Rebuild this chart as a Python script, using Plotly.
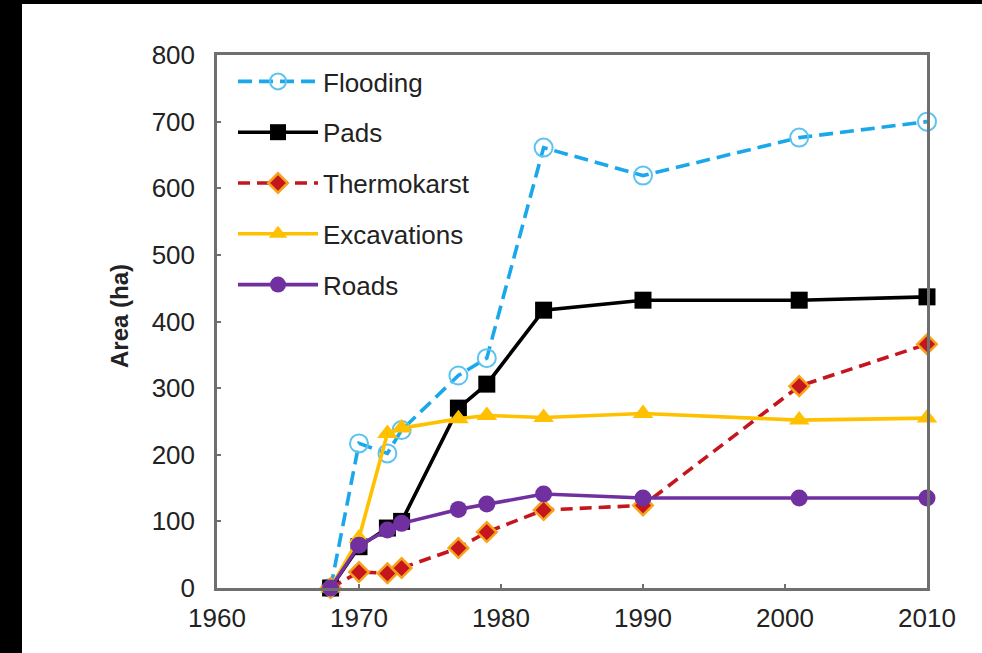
import plotly.graph_objects as go

# Survey years and mapped disturbance area (ha) per category
years = [1968, 1970, 1972, 1973, 1977, 1979, 1983, 1990, 2001, 2010]
flooding = [0, 217, 202, 237, 319, 345, 661, 619, 676, 700]
pads = [0, 62, 90, 100, 270, 306, 417, 432, 432, 437]
thermokarst = [0, 24, 22, 30, 60, 84, 117, 124, 303, 366]
excavations = [0, 75, 232, 240, 254, 259, 256, 262, 252, 255]
roads = [0, 64, 87, 97, 118, 126, 141, 135, 135, 135]

x_ticks = [1960, 1970, 1980, 1990, 2000, 2010]
y_ticks = [0, 100, 200, 300, 400, 500, 600, 700, 800]

FONT = "Liberation Sans, Arial, sans-serif"

series = [
    dict(name="Flooding", y=flooding, color="#1ba8eb", dash="14px,7px",
         marker=dict(symbol="circle-open", size=18, color="#5cc3f0", line=dict(width=2))),
    dict(name="Pads", y=pads, color="#000000", dash="solid",
         marker=dict(symbol="square", size=17, color="#000000")),
    dict(name="Thermokarst", y=thermokarst, color="#c4161c", dash="12px,7px",
         marker=dict(symbol="diamond", size=15, color="#c4161c", line=dict(color="#f7a21b", width=2.5))),
    dict(name="Excavations", y=excavations, color="#ffc000", dash="solid",
         marker=dict(symbol="triangle-up", size=18, color="#ffc000")),
    dict(name="Roads", y=roads, color="#7030a0", dash="solid",
         marker=dict(symbol="circle", size=17, color="#7030a0")),
]

fig = go.Figure()
for i, s in enumerate(series):
    fig.add_trace(go.Scatter(
        x=years, y=s["y"], name=s["name"], mode="lines+markers",
        line=dict(color=s["color"], width=3.6, dash=s["dash"]),
        marker=s["marker"], cliponaxis=False, legendgroup=f"g{i}",
    ))

# plot area in pixels: x 217..927, y 55..588
W, H = 982, 653
L, R, T, B = 217, 55, 55, 65
pw, ph = W - L - R, H - T - B

def px_x(p):
    return (p - L) / pw

def px_y(p):
    return (H - B - p) / ph

axis_common = dict(
    showgrid=False, zeroline=False, showline=True, mirror=True,
    linecolor="#6f6f6f", linewidth=2.5,
    ticks="inside", ticklen=4, tickwidth=1.5, tickcolor="#6f6f6f",
    tickfont=dict(family=FONT, size=26, color="#222222"),
)

fig.update_layout(
    width=W, height=H,
    margin=dict(l=L, r=R, t=T, b=B),
    paper_bgcolor="white", plot_bgcolor="white",
    showlegend=True,
    legend=dict(
        x=px_x(233), y=px_y(58), xanchor="left", yanchor="top",
        bgcolor="rgba(0,0,0,0)", itemwidth=80, tracegroupgap=14,
        font=dict(family=FONT, size=26, color="#222222"),
    ),
    xaxis=dict(axis_common, range=[1960, 2010], tickvals=x_ticks, ticklabelstandoff=5),
    yaxis=dict(axis_common, range=[0, 800], tickvals=y_ticks, ticklabelstandoff=14),
    annotations=[dict(
        text="<b>Area (ha)</b>", textangle=-90, showarrow=False,
        xref="paper", yref="paper", x=px_x(119), y=px_y(316),
        xanchor="center", yanchor="middle",
        font=dict(family=FONT, size=24, color="#222222"),
    )],
    shapes=[
        dict(type="rect", xref="paper", yref="paper", x0=px_x(0), x1=px_x(22),
             y0=px_y(H), y1=px_y(0), fillcolor="black", line=dict(width=0), layer="above"),
        dict(type="rect", xref="paper", yref="paper", x0=px_x(0), x1=px_x(W),
             y0=px_y(4), y1=px_y(0), fillcolor="black", line=dict(width=0), layer="above"),
    ],
)

fig.write_html("out.html")
